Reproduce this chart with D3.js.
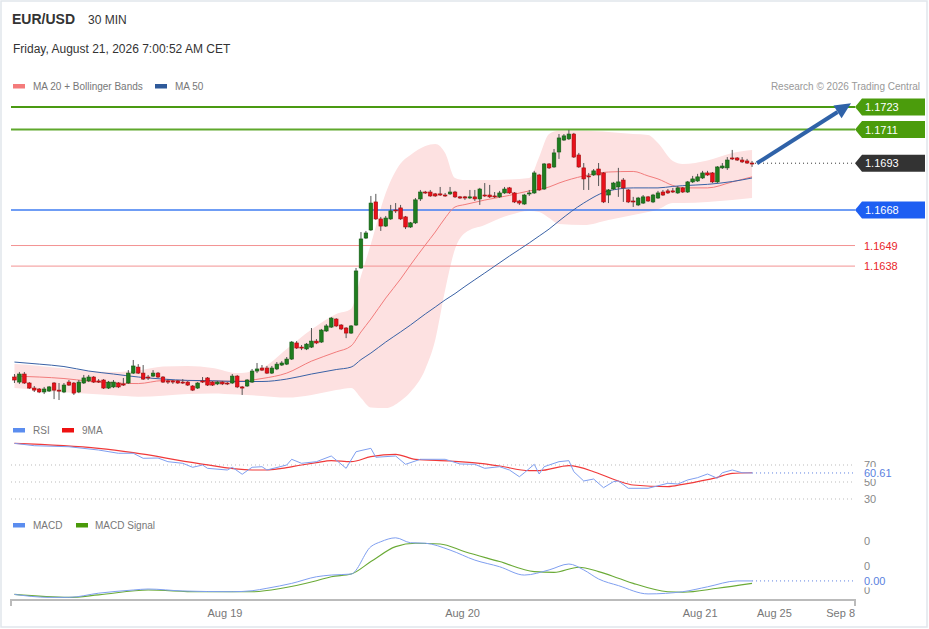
<!DOCTYPE html>
<html><head><meta charset="utf-8">
<script src="https://cdn.jsdelivr.net/npm/d3@7"></script>
<style>body{margin:0;background:#fff}svg{display:block;font-family:"Liberation Sans",Arial,sans-serif}</style>
</head><body><svg id="c" width="929" height="629"></svg>
<script>
// ---------- DATA ----------
const opens=[1.15787,1.15760,1.15803,1.15755,1.15728,1.15723,1.15707,1.15712,1.15755,1.15717,
1.15707,1.15760,1.15755,1.15707,1.15755,1.15766,1.15787,1.15766,1.15771,1.15728,
1.15734,1.15755,1.15750,1.15755,1.15808,1.15840,1.15808,1.15787,1.15792,1.15808,
1.15787,1.15766,1.15766,1.15766,1.15760,1.15760,1.15739,1.15728,1.15766,1.15782,
1.15760,1.15750,1.15760,1.15755,1.15755,1.15792,1.15734,1.15739,1.15760,1.15819,
1.15835,1.15835,1.15808,1.15830,1.15851,1.15856,1.15883,1.15969,1.15947,1.15937,
1.15947,1.15979,1.15974,1.16033,1.16054,1.16097,1.16065,1.16049,1.16022,1.16065,
1.16370,1.16530,1.16573,1.16723,1.16632,1.16594,1.16632,1.16680,1.16691,1.16643,
1.16589,1.16611,1.16739,1.16776,1.16776,1.16766,1.16766,1.16760,1.16766,1.16776,
1.16750,1.16750,1.16744,1.16750,1.16739,1.16760,1.16760,1.16755,1.16750,1.16771,
1.16798,1.16771,1.16728,1.16712,1.16766,1.16771,1.16867,1.16792,1.16926,1.16910,
1.16990,1.17054,1.17060,1.17086,1.16974,1.16905,1.16862,1.16867,1.16899,1.16878,
1.16760,1.16792,1.16803,1.16840,1.16787,1.16728,1.16707,1.16717,1.16750,1.16723,
1.16744,1.16776,1.16782,1.16782,1.16771,1.16798,1.16776,1.16830,1.16835,1.16851,
1.16878,1.16878,1.16830,1.16905,1.16905,1.16958,1.16958,1.16947,1.16942,1.16931];
const closes=[1.15771,1.15803,1.15755,1.15728,1.15717,1.15707,1.15723,1.15734,1.15717,1.15712,
1.15744,1.15744,1.15701,1.15760,1.15782,1.15787,1.15760,1.15760,1.15728,1.15760,
1.15760,1.15734,1.15744,1.15808,1.15846,1.15808,1.15776,1.15782,1.15808,1.15787,
1.15760,1.15760,1.15760,1.15755,1.15755,1.15744,1.15717,1.15755,1.15760,1.15744,
1.15744,1.15760,1.15750,1.15750,1.15792,1.15734,1.15728,1.15771,1.15819,1.15830,
1.15824,1.15808,1.15835,1.15856,1.15862,1.15883,1.15974,1.15942,1.15942,1.15963,
1.15979,1.15969,1.16038,1.16060,1.16102,1.16060,1.16044,1.16022,1.16060,1.16354,
1.16525,1.16557,1.16717,1.16632,1.16594,1.16637,1.16675,1.16675,1.16632,1.16589,
1.16611,1.16734,1.16776,1.16771,1.16755,1.16755,1.16760,1.16755,1.16776,1.16750,
1.16744,1.16744,1.16750,1.16739,1.16792,1.16755,1.16750,1.16750,1.16771,1.16792,
1.16771,1.16723,1.16717,1.16760,1.16771,1.16878,1.16787,1.16926,1.16905,1.16985,
1.17065,1.17076,1.17086,1.16963,1.16910,1.16846,1.16857,1.16889,1.16867,1.16723,
1.16787,1.16824,1.16830,1.16798,1.16723,1.16723,1.16744,1.16750,1.16728,1.16760,
1.16771,1.16760,1.16771,1.16776,1.16798,1.16776,1.16830,1.16846,1.16857,1.16878,
1.16867,1.16830,1.16910,1.16915,1.16947,1.16953,1.16947,1.16937,1.16931,1.16930];
const highs=[1.15803,1.15814,1.15814,1.15760,1.15739,1.15728,1.15734,1.15739,1.15760,1.15755,
1.15755,1.15771,1.15760,1.15771,1.15798,1.15798,1.15792,1.15776,1.15776,1.15766,
1.15771,1.15760,1.15782,1.15824,1.15878,1.15856,1.15851,1.15798,1.15824,1.15814,
1.15792,1.15776,1.15771,1.15771,1.15776,1.15766,1.15744,1.15760,1.15787,1.15787,
1.15766,1.15766,1.15766,1.15760,1.15803,1.15798,1.15739,1.15776,1.15830,1.15862,
1.15851,1.15846,1.15846,1.15867,1.15872,1.15894,1.15979,1.15979,1.15958,1.15969,
1.16049,1.15990,1.16044,1.16070,1.16108,1.16102,1.16070,1.16054,1.16065,1.16370,
1.16562,1.16568,1.16755,1.16766,1.16643,1.16648,1.16707,1.16717,1.16707,1.16648,
1.16616,1.16744,1.16787,1.16782,1.16787,1.16771,1.16803,1.16771,1.16803,1.16782,
1.16755,1.16755,1.16787,1.16787,1.16798,1.16824,1.16814,1.16776,1.16782,1.16803,
1.16803,1.16776,1.16734,1.16766,1.16787,1.16889,1.16873,1.16931,1.16931,1.17006,
1.17086,1.17086,1.17108,1.17092,1.16985,1.16931,1.16878,1.16899,1.16931,1.16883,
1.16792,1.16830,1.16905,1.16851,1.16792,1.16750,1.16750,1.16760,1.16755,1.16766,
1.16782,1.16787,1.16792,1.16798,1.16808,1.16803,1.16835,1.16862,1.16873,1.16889,
1.16889,1.16883,1.16915,1.16931,1.16963,1.17001,1.16963,1.16963,1.16953,1.16942];
const lows=[1.15755,1.15750,1.15750,1.15723,1.15707,1.15701,1.15696,1.15707,1.15669,1.15664,
1.15701,1.15739,1.15691,1.15701,1.15750,1.15760,1.15755,1.15755,1.15723,1.15723,
1.15728,1.15728,1.15739,1.15750,1.15803,1.15803,1.15771,1.15771,1.15787,1.15782,
1.15755,1.15750,1.15750,1.15750,1.15750,1.15739,1.15712,1.15723,1.15755,1.15739,
1.15739,1.15744,1.15744,1.15744,1.15750,1.15728,1.15691,1.15734,1.15755,1.15808,
1.15819,1.15803,1.15803,1.15824,1.15846,1.15851,1.15878,1.15937,1.15931,1.15931,
1.15942,1.15963,1.15969,1.16028,1.16049,1.16054,1.16038,1.15995,1.16017,1.16060,
1.16365,1.16525,1.16568,1.16627,1.16568,1.16589,1.16627,1.16664,1.16627,1.16578,
1.16584,1.16605,1.16728,1.16766,1.16750,1.16750,1.16755,1.16750,1.16760,1.16744,
1.16739,1.16734,1.16739,1.16728,1.16707,1.16750,1.16744,1.16744,1.16744,1.16766,
1.16766,1.16717,1.16707,1.16707,1.16755,1.16766,1.16782,1.16787,1.16899,1.16905,
1.16953,1.17049,1.17054,1.16958,1.16905,1.16787,1.16787,1.16862,1.16808,1.16717,
1.16717,1.16787,1.16750,1.16723,1.16717,1.16696,1.16701,1.16712,1.16723,1.16717,
1.16739,1.16755,1.16766,1.16771,1.16766,1.16771,1.16771,1.16824,1.16830,1.16846,
1.16862,1.16824,1.16824,1.16899,1.16894,1.16947,1.16942,1.16931,1.16926,1.16910];

// indicator samples (bar index -> value)
const indIdx=[0,5,10,15,20,25,30,35,40,45,50,55,60,65,68,70,72,75,78,80,83,85,87,89,91,95,100,104,106,108,110,115,120,125,128,130,133,135,140,145,149];
const ma20=[1.15792,1.15787,1.15779,1.15765,1.15755,1.15752,1.15768,1.15768,1.15765,1.15765,
1.15779,1.15808,1.15872,1.15921,1.15953,1.16028,1.16097,1.16209,1.16311,1.16386,
1.16493,1.16562,1.16637,1.16696,1.16709,1.16733,1.16758,1.16782,1.16790,1.16803,
1.16824,1.16862,1.16883,1.16886,1.16862,1.16846,1.16811,1.16798,1.16798,1.16830,1.16857];
const ma50=[1.15867,1.15856,1.15843,1.15819,1.15803,1.15787,1.15776,1.15769,1.15767,1.15763,
1.15763,1.15776,1.15803,1.15827,1.15840,1.15880,1.15915,1.15974,1.16028,1.16065,
1.16124,1.16161,1.16199,1.16233,1.16271,1.16343,1.16434,1.16504,1.16541,1.16578,
1.16621,1.16717,1.16782,1.16798,1.16798,1.16798,1.16806,1.16810,1.16817,1.16832,1.16851];
const bbUpper=[1.15856,1.15846,1.15832,1.15819,1.15814,1.15822,1.15843,1.15846,1.15835,1.15808,
1.15835,1.15937,1.16041,1.16124,1.16151,1.16327,1.16498,1.16771,1.16929,1.16974,
1.17022,1.17033,1.16985,1.16851,1.16840,1.16840,1.16843,1.16851,1.16963,1.17086,
1.17103,1.17104,1.17097,1.17086,1.17081,1.17038,1.16942,1.16926,1.16945,1.16985,1.17001];
const bbLower=[1.15728,1.15717,1.15705,1.15698,1.15689,1.15682,1.15687,1.15696,1.15699,1.15693,
1.15686,1.15677,1.15691,1.15717,1.15728,1.15675,1.15624,1.15621,1.15659,1.15707,
1.15830,1.15985,1.16252,1.16471,1.16557,1.16600,1.16653,1.16675,1.16669,1.16637,
1.16605,1.16600,1.16627,1.16653,1.16669,1.16683,1.16717,1.16717,1.16723,1.16733,1.16744];

const rsiIdx=[0,4,11,17,21,24,26,29,31,34,36,38,39,43,44,46,48,50,51,55,56,58,61,64,67,69,70,72,73,77,79,82,87,90,93,95,98,100,102,103,105,106,107,110,112,113,115,117,119,121,122,124,128,132,134,136,138,140,142,143,145,147,149];
const rsiVal=[95.5,92.7,91.5,87.6,83.8,83.8,77.9,78.2,73.9,72.0,67.3,70.0,66.1,64.1,67.3,59.1,67.3,68.0,64.1,70.0,76.7,72.0,73.9,80.6,66.1,85.6,87.0,89.6,79.1,80.6,70.8,76.7,76.7,71.2,70.8,66.1,68.0,64.1,56.2,60.9,70.8,59.4,68.0,73.9,75.1,62.1,51.2,53.5,43.3,50.4,51.2,42.6,42.6,48.5,47.6,52.4,55.1,59.4,54.4,60.9,64.1,60.9,60.61];
const rsiMaIdx=[0,17,24,37,48,51,54,58,61,64,68,72,77,81,88,94,98,104,106,112,117,118,122,125,132,135,142,145,149];
const rsiMaVal=[95.5,89.6,84.5,72.0,64.1,64.1,66.1,70.0,72.7,75.1,73.9,79.8,82.6,76.7,74.7,72.0,68.8,63.3,63.3,69.2,62.1,60.0,51.2,46.5,44.5,47.3,55.5,60.2,60.9];

const macdIdx=[0,7,11,17,24,27,34,44,48,51,56,61,64,68,72,74,77,80,83,88,93,98,103,108,112,115,118,122,128,135,140,146,149];
const macdVal=[-0.00018,-0.00030,-0.00030,-0.00013,0.00000,0.00004,-0.00004,-0.00007,-0.00003,0.00007,0.00027,0.00054,0.00061,0.00065,0.00177,0.00197,0.00213,0.00193,0.00191,0.00163,0.00122,0.00095,0.00061,0.00082,0.00106,0.00082,0.00045,0.00018,-0.00016,-0.00007,0.00013,0.00037,0.00037];
const sigIdx=[0,11,17,27,37,48,54,61,64,68,72,77,81,86,91,98,105,109,114,118,122,125,132,135,142,149];
const sigVal=[-0.00018,-0.00030,-0.00020,0.00000,-0.00007,-0.00007,0.00007,0.00038,0.00054,0.00065,0.00116,0.00177,0.00191,0.00188,0.00156,0.00116,0.00075,0.00072,0.00093,0.00075,0.00048,0.00027,-0.00007,-0.00009,0.00007,0.00027];

const resistance=[1.1723,1.1711];
const pivot=[1.1668];
const support=[1.1649,1.1638];
const arrowTarget=1.1725;
const dateLabels=["Aug 19","Aug 20","Aug 21","Aug 25","Sep 8"];
const dateIdx=[39,87,135,150,164];
const rsiTicks=[70,50,30];
const macdTicks=[0.002,0.001,0];

// ---------- CHART ----------
const svg=d3.select("#c");
const FONT='"Liberation Sans",Arial,sans-serif';
svg.append("rect").attr("x",1).attr("y",1).attr("width",926).attr("height",626)
  .attr("fill","#fff").attr("stroke","#e1e6ec").attr("stroke-width",1.5);

const x=d3.scaleLinear().domain([-0.7,169.8]).range([11,855]);
const yP=d3.scaleLinear().domain([1.1560,1.1730]).range([412,94]);
const yR=d3.scaleLinear().domain([30,70]).range([499,465]);
const yM=d3.scaleLinear().domain([0,0.002]).range([590,541]);
const last=closes.length-1;

// header
svg.append("text").attr("x",12).attr("y",24).attr("font-size",14).attr("font-weight","bold").attr("fill","#333").text("EUR/USD");
svg.append("text").attr("x",88).attr("y",24).attr("font-size",12).attr("fill","#333").text("30 MIN");
svg.append("text").attr("x",13).attr("y",53).attr("font-size",12).attr("fill","#333").text("Friday, August 21, 2026 7:00:52 AM CET");
svg.append("text").attr("x",920).attr("y",90).attr("font-size",10).attr("fill","#999").attr("text-anchor","end").text("Research \u00A9 2026 Trading Central");

function legend(items,yy){
  items.forEach(it=>{
    svg.append("rect").attr("x",it.sx).attr("y",yy-6).attr("width",12).attr("height",4.5).attr("fill",it.c);
    svg.append("text").attr("x",it.tx).attr("y",yy).attr("font-size",10).attr("fill","#777").text(it.t);
  });
}
legend([{sx:13,tx:33,c:"#f47b7b",t:"MA 20 + Bollinger Bands"},{sx:155,tx:175,c:"#2f5a9a",t:"MA 50"}],90);
legend([{sx:13,tx:33,c:"#5b8def",t:"RSI"},{sx:62,tx:82,c:"#ee1111",t:"9MA"}],434);
legend([{sx:13,tx:33,c:"#5b8def",t:"MACD"},{sx:76,tx:95,c:"#4a9a0a",t:"MACD Signal"}],529);

// bollinger band
const band=indIdx.map((d,k)=>({i:d,u:bbUpper[k],l:bbLower[k],m20:ma20[k],m50:ma50[k]}));
svg.append("path").datum(band)
  .attr("d",d3.area().x(d=>x(d.i)).y0(d=>yP(d.l)).y1(d=>yP(d.u)).curve(d3.curveMonotoneX))
  .attr("fill","#fde1e1");

// level lines
resistance.forEach((p,k)=>{
  svg.append("line").attr("x1",11).attr("x2",855).attr("y1",yP(p)).attr("y2",yP(p))
    .attr("stroke",k===0?"#4a9a12":"#5fa82c").attr("stroke-width",2);
});
pivot.forEach(p=>{
  svg.append("line").attr("x1",11).attr("x2",855).attr("y1",yP(p)).attr("y2",yP(p))
    .attr("stroke","#3f7cf2").attr("stroke-width",1.5);
});
support.forEach(p=>{
  svg.append("line").attr("x1",11).attr("x2",855).attr("y1",yP(p)).attr("y2",yP(p))
    .attr("stroke","#f39393").attr("stroke-width",1);
});

// MAs
svg.append("path").datum(band).attr("d",d3.line().x(d=>x(d.i)).y(d=>yP(d.m20)).curve(d3.curveMonotoneX))
  .attr("fill","none").attr("stroke","#f27c7c").attr("stroke-width",1);
svg.append("path").datum(band).attr("d",d3.line().x(d=>x(d.i)).y(d=>yP(d.m50)).curve(d3.curveMonotoneX))
  .attr("fill","none").attr("stroke","#3a62a6").attr("stroke-width",1);

// candles
const candles=d3.range(closes.length).map(i=>({i,o:opens[i],c:closes[i],h:highs[i],l:lows[i]}));
const cg=svg.append("g");
cg.selectAll("line.wick").data(candles).join("line").attr("class","wick")
  .attr("x1",d=>x(d.i)).attr("x2",d=>x(d.i)).attr("y1",d=>yP(d.h)).attr("y2",d=>yP(d.l))
  .attr("stroke","#555").attr("stroke-width",1);
cg.selectAll("rect.body").data(candles).join("rect").attr("class","body")
  .attr("x",d=>x(d.i)-1.8).attr("width",3.6)
  .attr("y",d=>yP(Math.max(d.o,d.c)))
  .attr("height",d=>Math.max(1,Math.abs(yP(d.o)-yP(d.c))))
  .attr("fill",d=>d.c>=d.o?"#1f7d1f":"#e8111b")
  .attr("stroke",d=>d.c>=d.o?"#145a14":"#a20c0c").attr("stroke-width",0.6);

// last price dotted line
svg.append("line").attr("x1",x(last)+3).attr("x2",855).attr("y1",yP(closes[last])).attr("y2",yP(closes[last]))
  .attr("stroke","#333").attr("stroke-width",1).attr("stroke-dasharray","1,3");

// arrow
(function(){
  const x0=x(last+1),y0=yP(closes[last]),x1=x(169),y1=yP(arrowTarget);
  const ang=Math.atan2(y1-y0,x1-x0),hl=16,hw=7.5;
  const bx=x1-hl*Math.cos(ang),by=y1-hl*Math.sin(ang);
  svg.append("line").attr("x1",x0).attr("y1",y0).attr("x2",bx).attr("y2",by)
    .attr("stroke","#2f62a8").attr("stroke-width",4);
  const px=-Math.sin(ang),py=Math.cos(ang);
  svg.append("path").attr("d",`M${x1},${y1}L${bx+px*hw},${by+py*hw}L${bx-px*hw},${by-py*hw}Z`).attr("fill","#2f62a8");
})();

// price tags
function tag(price,fill){
  const yy=yP(price);
  svg.append("path").attr("d",`M855,${yy}L862,${yy-8.5}L925,${yy-8.5}L925,${yy+8.5}L862,${yy+8.5}Z`).attr("fill",fill);
  svg.append("text").attr("x",865).attr("y",yy+4).attr("font-size",11).attr("fill","#fff").text(d3.format(".4f")(price));
}
tag(resistance[0],"#4b9c0c");
tag(resistance[1],"#4b9c0c");
tag(+closes[last].toFixed(4),"#333333");
tag(pivot[0],"#1d5ef2");
support.forEach(p=>{
  svg.append("text").attr("x",864).attr("y",yP(p)+4).attr("font-size",11).attr("fill","#e8262a").text(d3.format(".4f")(p));
});

// RSI panel
rsiTicks.forEach(t=>{
  svg.append("line").attr("x1",11).attr("x2",853).attr("y1",yR(t)).attr("y2",yR(t))
    .attr("stroke","#bbb").attr("stroke-width",1).attr("stroke-dasharray","1,3");
  svg.append("text").attr("x",864).attr("y",yR(t)+4).attr("font-size",11).attr("fill","#888").text(t);
});
const rsiPts=rsiIdx.map((d,k)=>[x(d),yR(rsiVal[k])]);
const rsiMaPts=rsiMaIdx.map((d,k)=>[x(d),yR(rsiMaVal[k])]);
svg.append("path").attr("d",d3.line().curve(d3.curveMonotoneX)(rsiMaPts)).attr("fill","none").attr("stroke","#f03a3a").attr("stroke-width",1.2);
svg.append("path").attr("d",d3.line()(rsiPts)).attr("fill","none").attr("stroke","#7f9ff0").attr("stroke-width",1);
const rsiLast=rsiVal[rsiVal.length-1];
svg.append("line").attr("x1",x(last)).attr("x2",853).attr("y1",yR(rsiLast)).attr("y2",yR(rsiLast))
  .attr("stroke","#5b7fe0").attr("stroke-width",1).attr("stroke-dasharray","1,3");
svg.append("rect").attr("x",861).attr("y",yR(rsiLast)-6).attr("width",40).attr("height",12).attr("fill","#fff");
svg.append("text").attr("x",864).attr("y",yR(rsiLast)+4).attr("font-size",11).attr("fill","#5b7fe0").text(d3.format(".2f")(rsiLast));

// MACD panel
macdTicks.forEach(t=>{
  svg.append("text").attr("x",864).attr("y",yM(t)+4).attr("font-size",11).attr("fill","#888").text(d3.format(".0f")(t));
});
const macdPts=macdIdx.map((d,k)=>[x(d),yM(macdVal[k])]);
const sigPts=sigIdx.map((d,k)=>[x(d),yM(sigVal[k])]);
svg.append("path").attr("d",d3.line().curve(d3.curveMonotoneX)(sigPts)).attr("fill","none").attr("stroke","#6aaa36").attr("stroke-width",1.1);
svg.append("path").attr("d",d3.line().curve(d3.curveMonotoneX)(macdPts)).attr("fill","none").attr("stroke","#7f9ff0").attr("stroke-width",1);
const macdLast=macdVal[macdVal.length-1];
svg.append("line").attr("x1",x(last)).attr("x2",853).attr("y1",yM(macdLast)).attr("y2",yM(macdLast))
  .attr("stroke","#5b7fe0").attr("stroke-width",1).attr("stroke-dasharray","1,3");
svg.append("rect").attr("x",861).attr("y",yM(macdLast)-6.5).attr("width",40).attr("height",13).attr("fill","#fff");
svg.append("text").attr("x",864).attr("y",yM(macdLast)+4).attr("font-size",11).attr("fill","#5b7fe0").text(d3.format(".2f")(macdLast));

// x axis
svg.append("path").attr("d",`M${x.range()[0]},606V600H${x.range()[1]}V606`).attr("fill","none").attr("stroke","#bbb").attr("stroke-width",2);
dateLabels.forEach((t,k)=>{
  svg.append("text").attr("x",x(dateIdx[k])).attr("y",617).attr("font-size",11).attr("fill","#777").text(t);
});
</script>
</body></html>
